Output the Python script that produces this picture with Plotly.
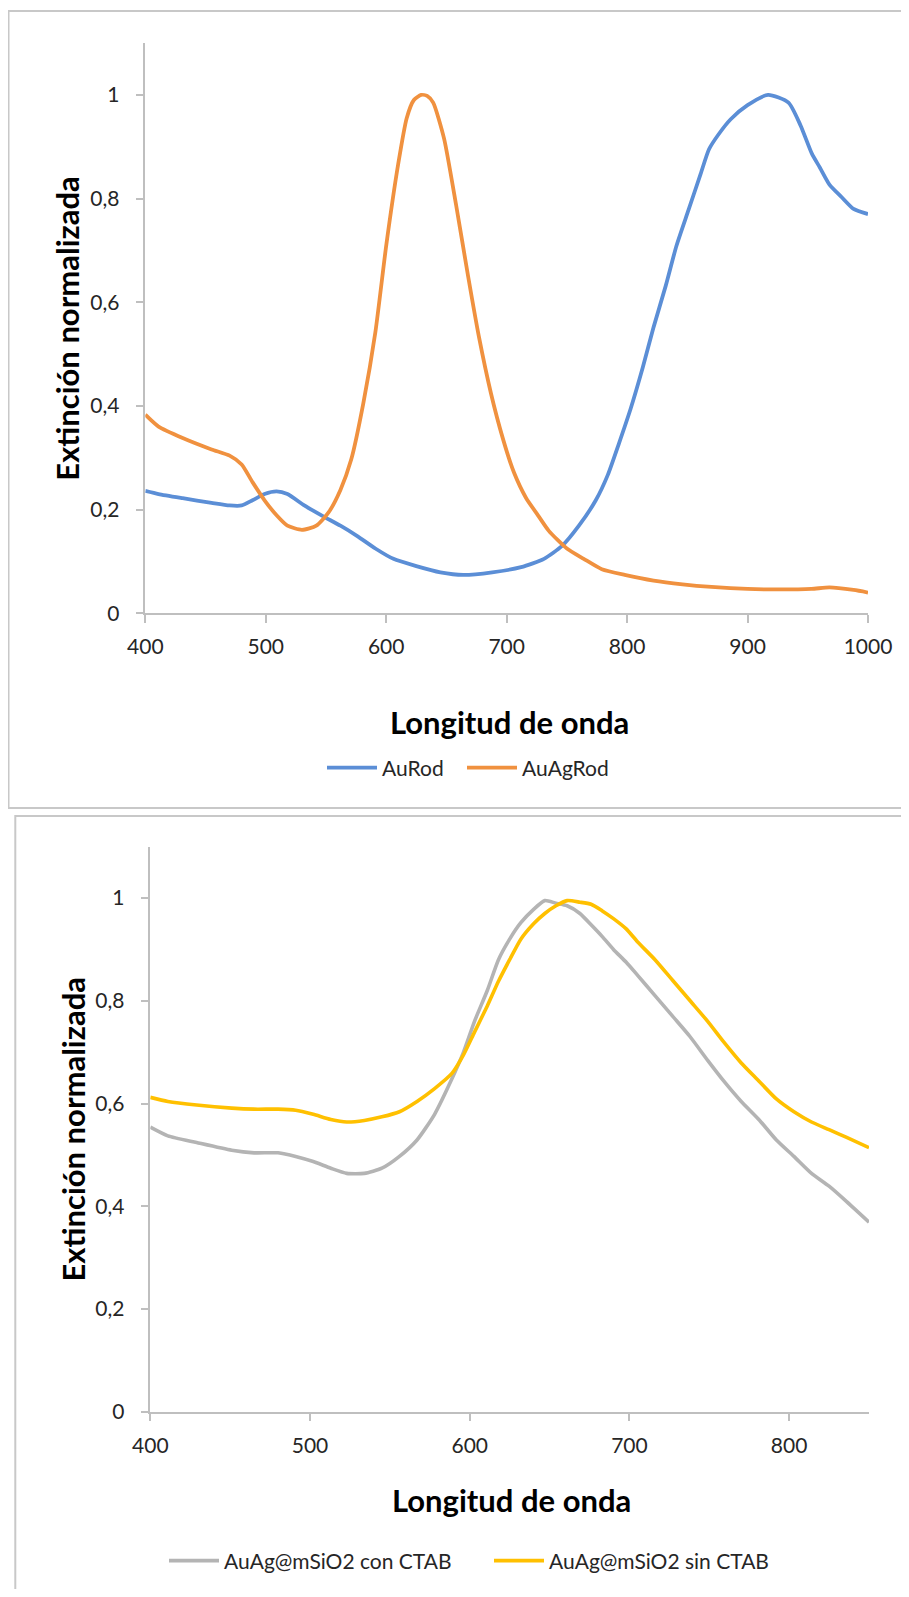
import plotly.graph_objects as go

# page body has an 8px margin: figure is sized to fit inside the 909x1597 window
OFF = 8
W, H = 909 - 2 * OFF, 1597 - 2 * OFF

# ---------------- data: top panel ----------------
aurod_x = [400, 411, 431, 455, 470, 480, 489, 499, 509, 518, 532, 547, 562, 576, 591, 606, 625,
           645, 664, 688, 712, 731, 746, 760, 774, 784, 793, 803, 813, 822, 832, 841, 851, 861,
           868, 876, 886, 900, 917, 934, 944, 953.5, 960, 968, 978, 988, 1000]
aurod_y = [0.236, 0.230, 0.222, 0.213, 0.208, 0.208, 0.218, 0.230, 0.235, 0.230, 0.208, 0.188,
           0.169, 0.149, 0.125, 0.105, 0.091, 0.079, 0.074, 0.079, 0.089, 0.105, 0.130, 0.169,
           0.218, 0.267, 0.326, 0.395, 0.474, 0.552, 0.631, 0.709, 0.778, 0.847, 0.895, 0.924,
           0.953, 0.980, 1.000, 0.985, 0.941, 0.886, 0.860, 0.827, 0.803, 0.780, 0.770]

auagrod_x = [400, 411, 431, 455, 470, 480, 489, 499, 509, 518, 530, 542, 552, 562, 571, 581,
             591, 600, 610, 617, 623, 629, 634, 639, 648, 658, 668, 677, 687, 697, 706, 716,
             726, 735, 750, 764, 779, 798, 822, 846, 870, 900, 924, 953, 968, 988, 1000]
auagrod_y = [0.383, 0.360, 0.338, 0.316, 0.304, 0.287, 0.253, 0.218, 0.189, 0.169, 0.161, 0.169,
             0.194, 0.238, 0.297, 0.405, 0.542, 0.709, 0.867, 0.955, 0.990, 1.000, 0.998, 0.985,
             0.916, 0.788, 0.650, 0.533, 0.424, 0.336, 0.272, 0.223, 0.189, 0.159, 0.125, 0.105,
             0.085, 0.074, 0.063, 0.056, 0.051, 0.047, 0.046, 0.047, 0.050, 0.045, 0.040]

# ---------------- data: bottom panel ----------------
sio_x = [400, 411, 429, 451, 465, 480, 491, 502, 513, 523, 534, 545, 556, 567, 578, 589, 596,
         603, 611, 618, 625, 632, 640, 647, 654, 661, 669, 676, 683, 690, 698, 705, 716, 727,
         738, 749, 759, 770, 781, 792, 803, 814, 825, 836, 850]
con_ctab = [0.554, 0.537, 0.524, 0.509, 0.504, 0.504, 0.497, 0.487, 0.474, 0.464, 0.464, 0.474,
            0.497, 0.529, 0.579, 0.649, 0.699, 0.760, 0.820, 0.880, 0.920, 0.952, 0.978, 0.995,
            0.990, 0.985, 0.970, 0.948, 0.925, 0.900, 0.875, 0.850, 0.810, 0.770, 0.730, 0.684,
            0.644, 0.604, 0.569, 0.529, 0.497, 0.464, 0.439, 0.409, 0.369]
sin_ctab = [0.612, 0.604, 0.597, 0.591, 0.589, 0.589, 0.587, 0.579, 0.569, 0.564, 0.567, 0.574,
            0.584, 0.604, 0.629, 0.659, 0.694, 0.739, 0.790, 0.838, 0.880, 0.920, 0.950, 0.970,
            0.985, 0.995, 0.992, 0.988, 0.975, 0.960, 0.940, 0.915, 0.880, 0.840, 0.800, 0.760,
            0.720, 0.679, 0.644, 0.609, 0.584, 0.564, 0.549, 0.534, 0.514]

y_ticks = [0, 0.2, 0.4, 0.6, 0.8, 1]

FONT = "Lato"
AXC = "#BFBFBF"
TXT = "#262626"


def px_x(p):
    return (p - OFF) / W


def px_y(p):
    return 1 - (p - OFF) / H


fig = go.Figure()
fig.add_trace(go.Scatter(x=aurod_x, y=aurod_y, name="AuRod", mode="lines",
                         line=dict(color="#5B8ED6", width=3.8, shape="spline", smoothing=0.6),
                         xaxis="x", yaxis="y", legend="legend"))
fig.add_trace(go.Scatter(x=auagrod_x, y=auagrod_y, name="AuAgRod", mode="lines",
                         line=dict(color="#F0913F", width=3.8, shape="spline", smoothing=0.6),
                         xaxis="x", yaxis="y", legend="legend2"))
fig.add_trace(go.Scatter(x=sio_x, y=con_ctab, name="AuAg@mSiO2 con CTAB", mode="lines",
                         line=dict(color="#B4B4B4", width=3.6, shape="spline", smoothing=0.6),
                         xaxis="x2", yaxis="y2", legend="legend3"))
fig.add_trace(go.Scatter(x=sio_x, y=sin_ctab, name="AuAg@mSiO2 sin CTAB", mode="lines",
                         line=dict(color="#FFC000", width=3.6, shape="spline", smoothing=0.6),
                         xaxis="x2", yaxis="y2", legend="legend4"))

axis_common = dict(showline=True, linecolor=AXC, linewidth=1.5, ticks="outside", ticklen=8,
                   tickcolor=AXC, tickwidth=1.5, showgrid=False, zeroline=False,
                   automargin=False,
                   tickfont=dict(family=FONT, size=21, color=TXT))


def legend_at(xp, yp):
    return dict(orientation="h", x=px_x(xp), y=px_y(yp), xanchor="left", yanchor="middle",
                font=dict(family=FONT, size=21, color=TXT), itemwidth=50,
                bgcolor="rgba(0,0,0,0)")


fig.update_layout(
    width=W, height=H, margin=dict(l=0, r=0, t=0, b=0, autoexpand=False),
    paper_bgcolor="white", plot_bgcolor="white", separators=",.",
    font=dict(family=FONT, color=TXT),
    xaxis=dict(domain=[px_x(145.3), px_x(868)], range=[400, 1000], dtick=100, tick0=400,
               anchor="y", ticklabelstandoff=6, **axis_common),
    yaxis=dict(domain=[px_y(613.3), px_y(43)], range=[0, 1.1], tickvals=y_ticks,
               anchor="x", ticklabelstandoff=12, **axis_common),
    xaxis2=dict(domain=[px_x(150.3), px_x(869)], range=[400, 850], dtick=100, tick0=400,
                anchor="y2", ticklabelstandoff=6, **axis_common),
    yaxis2=dict(domain=[px_y(1411.7), px_y(846.7)], range=[0, 1.1], tickvals=y_ticks,
                anchor="x2", ticklabelstandoff=12, **axis_common),
    legend=legend_at(322, 768),
    legend2=legend_at(462, 768),
    legend3=legend_at(164, 1561),
    legend4=legend_at(489, 1561),
    showlegend=True,
)

# axis titles as annotations
title_font = dict(family=FONT, size=31, color="#000000")
annots = [
    dict(text="<b>Longitud de onda</b>", x=px_x(510), y=px_y(722)),
    dict(text="<b>Extinción normalizada</b>", x=px_x(66.7), y=px_y(328), textangle=-90),
    dict(text="<b>Longitud de onda</b>", x=px_x(511), y=px_y(1500)),
    dict(text="<b>Extinción normalizada</b>", x=px_x(72.5), y=px_y(1129), textangle=-90),
]
for a in annots:
    fig.add_annotation(xref="paper", yref="paper", showarrow=False, xanchor="center",
                       yanchor="middle", font=title_font, **a)

# chart borders
fig.add_shape(type="rect", xref="paper", yref="paper", x0=px_x(8.5), x1=px_x(930),
              y0=px_y(808), y1=px_y(11), line=dict(color="#C8C8C8", width=2),
              fillcolor="rgba(0,0,0,0)", layer="below")
fig.add_shape(type="rect", xref="paper", yref="paper", x0=px_x(15.3), x1=px_x(930),
              y0=px_y(1620), y1=px_y(816), line=dict(color="#C8C8C8", width=2),
              fillcolor="rgba(0,0,0,0)", layer="below")

fig.write_html("out.html")
